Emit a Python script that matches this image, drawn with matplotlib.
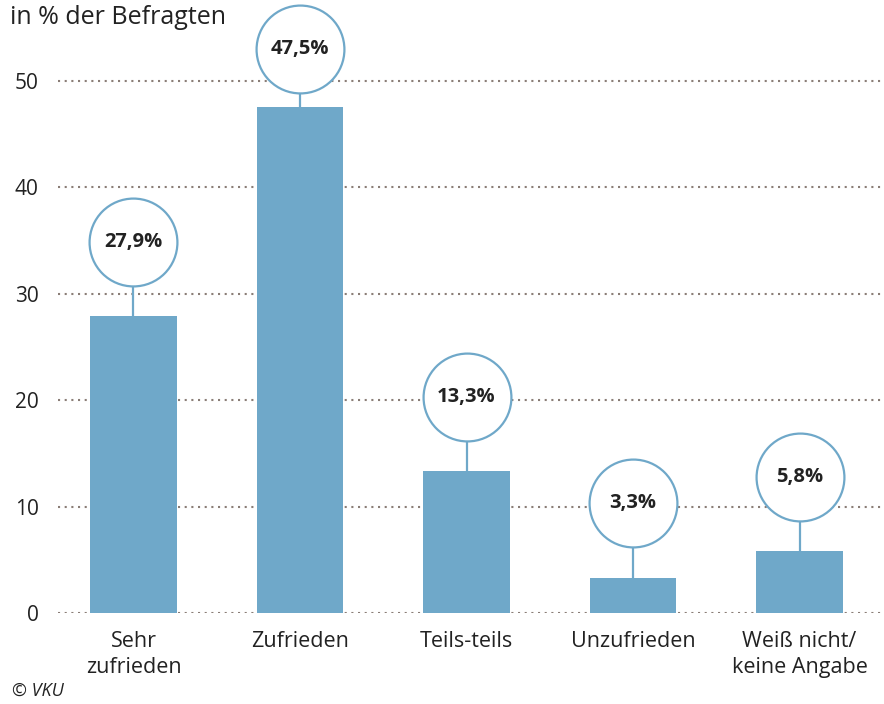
import numpy as np
import matplotlib.pyplot as plt

plt.rcParams['font.family'] = ['Open Sans', 'DejaVu Sans']

categories = ["Sehr\nzufrieden", "Zufrieden", "Teils-teils", "Unzufrieden", "Weiß nicht/\nkeine Angabe"]
values = [27.9, 47.5, 13.3, 3.3, 5.8]
labels = ["27,9%", "47,5%", "13,3%", "3,3%", "5,8%"]
yticks = [0, 10, 20, 30, 40, 50]

bar_color = "#6fa8c9"
text_color = "#222222"

W, H = 884, 704
fig = plt.figure(figsize=(W / 100, H / 100), dpi=100)
ax = fig.add_axes([58 / W, (H - 613) / H, (W - 58) / W, 613 / H])

x = np.arange(len(values))
ax.set_xlim(-0.453, 4.507)
ax.set_ylim(0, 57.6)

for t in yticks:
    ax.axhline(t, color="#8a7d76", lw=1.5, ls=(0, (1, 2.2)), zorder=1)

ax.bar(x, values, width=0.52, color=bar_color, zorder=2)

# circle centres: 7 units above bar, capped near the top
centres = [min(v + 7.0, 53.0) for v in values]
ax.vlines(x, values, centres, color=bar_color, lw=1.6, zorder=2)
ax.scatter(x, centres, s=4000, facecolor="white", edgecolor=bar_color,
           linewidth=1.6, zorder=3, clip_on=False)
for xi, c, lab in zip(x, centres, labels):
    ax.text(xi, c, lab, ha="center", va="center", fontsize=14.5,
            fontweight="bold", color=text_color, zorder=4)

for s in ax.spines.values():
    s.set_visible(False)
ax.set_yticks(yticks)
ax.set_yticklabels([str(t) for t in yticks], fontsize=15, color=text_color)
ax.tick_params(axis="y", length=0, pad=14)
ax.set_xticks(x)
ax.set_xticklabels(categories, fontsize=15.5, color=text_color, linespacing=1.3)
ax.tick_params(axis="x", length=0, pad=13)

fig.text(10 / W, 1 - 17 / H, "in % der Befragten", fontsize=18, color=text_color,
         ha="left", va="center")
fig.text(12 / W, 1 - 691 / H, "© VKU", fontsize=13, style="italic",
         color=text_color, ha="left", va="center")

fig.savefig("out.png", dpi=100, facecolor="white")
